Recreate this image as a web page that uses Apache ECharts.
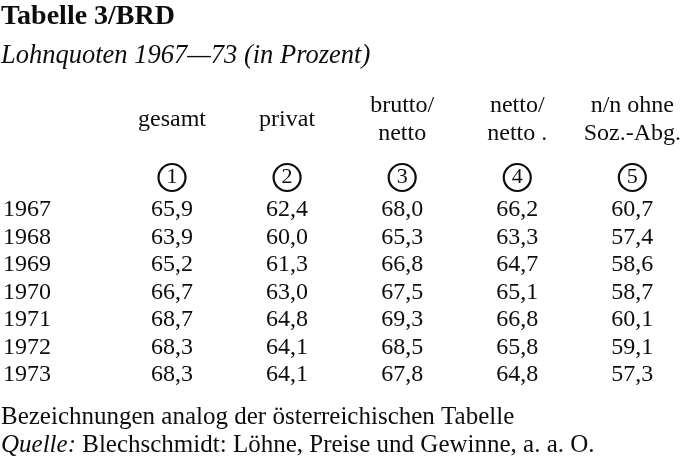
<!DOCTYPE html>
<html>
<head>
<meta charset="utf-8">
<script src="https://cdn.jsdelivr.net/npm/echarts@6/dist/echarts.min.js"></script>
<style>html,body{margin:0;padding:0;background:#fff;}#c{width:684px;height:467px;}</style>
</head>
<body>
<div id="c"></div>
<script>
const years = ['1967', '1968', '1969', '1970', '1971', '1972', '1973'];
const columnHeads = ['gesamt', 'privat', 'brutto/\nnetto', 'netto/\nnetto .', 'n/n ohne\nSoz.-Abg.'];
const columnNumbers = ['1', '2', '3', '4', '5'];
const gesamt = [65.9, 63.9, 65.2, 66.7, 68.7, 68.3, 68.3];
const privat = [62.4, 60.0, 61.3, 63.0, 64.8, 64.1, 64.1];
const bruttoNetto = [68.0, 65.3, 66.8, 67.5, 69.3, 68.5, 67.8];
const nettoNetto = [66.2, 63.3, 64.7, 65.1, 66.8, 65.8, 64.8];
const nnOhneSozAbg = [60.7, 57.4, 58.6, 58.7, 60.1, 59.1, 57.3];

const FONT = 'Liberation Serif';
const INK = '#0d0d0d';
const columns = [gesamt, privat, bruttoNetto, nettoNetto, nnOhneSozAbg];

const chart = echarts.init(document.getElementById('c'), null, {renderer: 'canvas'});

const series = columns.map((vals, k) => ({
  type: 'scatter',
  name: columnHeads[k],
  xAxisIndex: 0,
  yAxisIndex: 0,
  symbolSize: 1,
  itemStyle: {color: 'rgba(255,255,255,0)', opacity: 1},
  emphasis: {disabled: true},
  silent: true,
  data: vals.map((v, i) => [k, i, v]),
  label: {
    show: true,
    position: 'inside',
    formatter: p => p.value[2].toFixed(1).replace('.', ','),
    fontFamily: FONT,
    fontSize: 24,
    color: INK,
    opacity: 1
  }
}));

chart.setOption({
  backgroundColor: '#fff',
  animation: false,
  title: [
    {text: 'Tabelle 3/BRD', left: 1, top: 3, padding: 0,
     textStyle: {fontFamily: FONT, fontWeight: 'bold', fontSize: 28, color: INK}},
    {text: 'Lohnquoten 1967—73 (in Prozent)', left: 1, top: 43, padding: 0,
     textStyle: {fontFamily: FONT, fontStyle: 'italic', fontWeight: 'normal', fontSize: 26.5, color: INK}},
    {text: 'Bezeichnungen analog der österreichischen Tabelle', left: 1, top: 405, padding: 0,
     textStyle: {fontFamily: FONT, fontWeight: 'normal', fontSize: 25, color: INK}},
    {text: '{i|Quelle:} Blechschmidt: Löhne, Preise und Gewinne, a. a. O.', left: 1, top: 433, padding: 0,
     textStyle: {fontFamily: FONT, fontWeight: 'normal', fontSize: 25, color: INK,
       rich: {i: {fontFamily: FONT, fontStyle: 'italic', fontSize: 25, color: INK}}}}
  ],
  grid: {left: 172, right: 51, top: 210, bottom: 92, containLabel: false},
  xAxis: [
    {type: 'category', data: columnNumbers, position: 'top', boundaryGap: false,
     axisLine: {show: false}, axisTick: {show: false}, splitLine: {show: false},
     axisLabel: {
       interval: 0, margin: 19,
       formatter: v => '{c|' + v + '}',
       rich: {c: {fontFamily: FONT, fontSize: 22, color: INK, width: 27, height: 27, lineHeight: 27,
                  align: 'center', verticalAlign: 'middle', borderColor: INK, borderWidth: 2.2, borderRadius: 15}}
     }},
    {type: 'category', data: columnHeads, position: 'top', boundaryGap: false,
     axisLine: {show: false}, axisTick: {show: false}, splitLine: {show: false},
     axisLabel: {interval: 0, margin: 90, verticalAlign: 'middle', align: 'center',
       fontFamily: FONT, fontSize: 24, lineHeight: 28, color: INK}}
  ],
  yAxis: {
    type: 'category', data: years, inverse: true, boundaryGap: false,
    axisLine: {show: false}, axisTick: {show: false}, splitLine: {show: false},
    axisLabel: {interval: 0, align: 'left', margin: 169, fontFamily: FONT, fontSize: 24, color: INK}
  },
  series: series
});
</script>
</body>
</html>
